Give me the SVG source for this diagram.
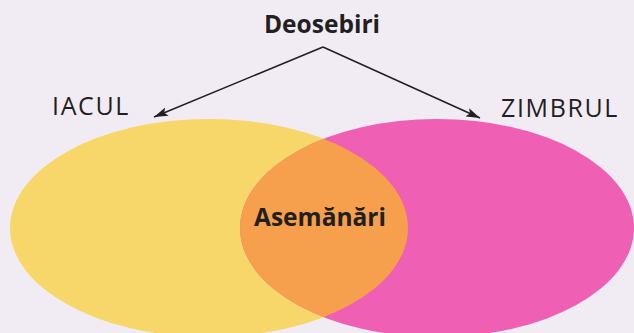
<svg xmlns="http://www.w3.org/2000/svg" width="634" height="333" viewBox="0 0 634 333">
<defs>
<style>
.lbl{font-family:"Open Sans","Noto Sans",sans-serif;fill:#231f20;}
.b{font-weight:bold;}
.reg{font-size:25px;letter-spacing:1.6px;}
.conn{stroke:#231f20;stroke-width:1.6;fill:none;}
</style>
<marker id="ah" viewBox="0 0 14 9" refX="14" refY="4.5" markerWidth="14" markerHeight="9" markerUnits="userSpaceOnUse" orient="auto">
<path d="M0,0 L14,4.5 L0,9 L3,4.5 Z" fill="#231f20"/>
</marker>
<clipPath id="cy"><ellipse cx="209" cy="228" rx="199" ry="109"/></clipPath>
</defs>
<rect width="634" height="333" fill="#f1ecf4"/>
<g id="iacul">
<ellipse cx="209" cy="228" rx="199" ry="109" fill="#f7d66a"/>
<text class="lbl reg" x="91" y="115" text-anchor="middle">IACUL</text>
</g>
<g id="zimbrul">
<ellipse cx="437" cy="228" rx="197" ry="109" fill="#ef5fb4"/>
<text class="lbl reg" x="560" y="117" text-anchor="middle">ZIMBRUL</text>
</g>
<g id="asemanari">
<ellipse cx="437" cy="228" rx="197" ry="109" fill="#f69f4c" clip-path="url(#cy)"/>
<text class="lbl b" x="320" y="226" font-size="24.5" text-anchor="middle">Asemănări</text>
</g>
<g id="deosebiri">
<text class="lbl b" x="322" y="33" font-size="24.5" text-anchor="middle">Deosebiri</text>
</g>
<g id="connectors">
<path class="conn" d="M323,47 L154,117" marker-end="url(#ah)"/>
<path class="conn" d="M323,47 L480,118" marker-end="url(#ah)"/>
</g>
</svg>
